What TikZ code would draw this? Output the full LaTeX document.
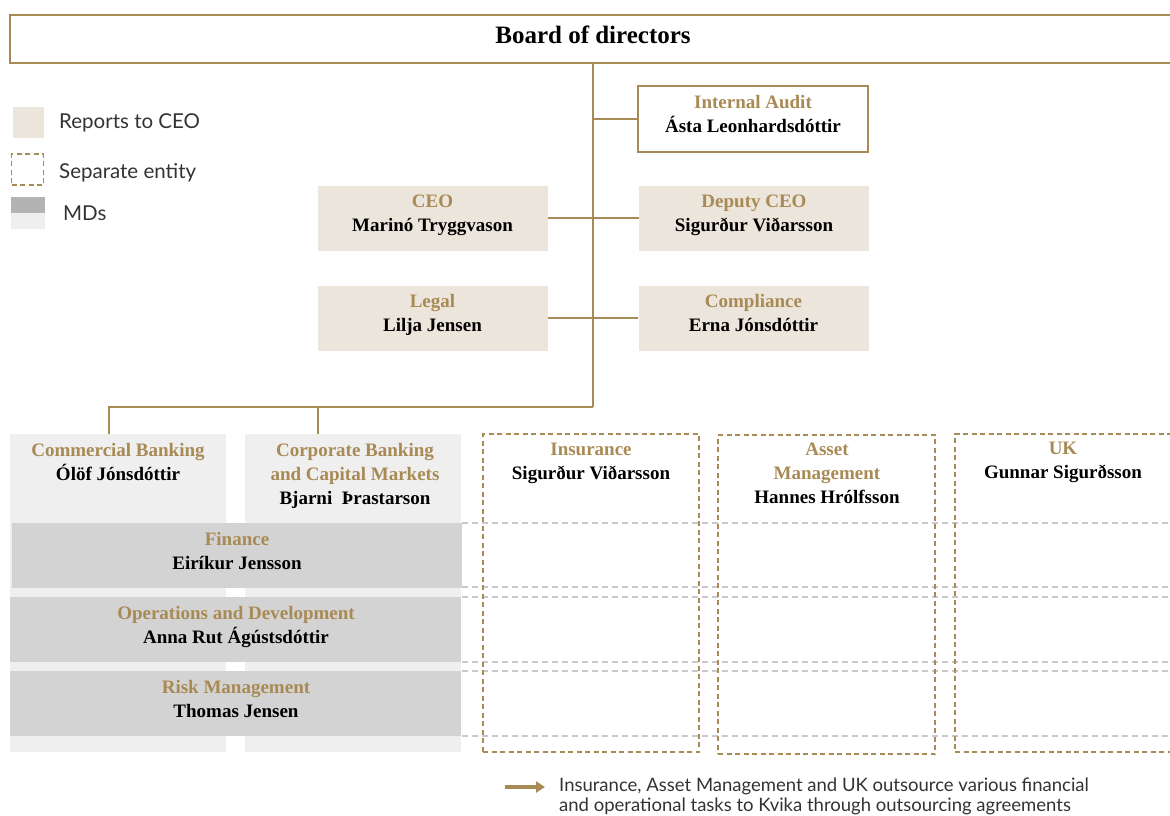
\documentclass[tikz,border=0pt]{standalone}
\usepackage{fontspec}
\setmainfont{Liberation Serif}
\newfontfamily\legendfont{Lato}
\usetikzlibrary{arrows.meta}
\definecolor{gold}{HTML}{A88A55}
\definecolor{beige}{HTML}{ECE5DB}
\definecolor{lgray}{HTML}{EFEFEF}
\definecolor{mgray}{HTML}{D3D3D3}
\definecolor{dgray}{HTML}{B3B3B3}
\definecolor{dashgray}{HTML}{C9C9C9}
\definecolor{txt}{HTML}{333333}
\tikzset{
  conn/.style={draw=gold, line width=2pt},
  execbox/.style={fill=beige, minimum width=230pt, minimum height=65pt, align=center, inner sep=0pt,
    font=\fontsize{19}{24}\selectfont\bfseries, text depth=10pt},
  auditbox/.style={draw=gold, line width=2pt, fill=white, minimum width=230pt, minimum height=66pt, align=center, inner sep=0pt,
    font=\fontsize{19}{24}\selectfont\bfseries, text depth=10pt},
  colbox/.style={fill=lgray, inner sep=0pt},
  mdband/.style={fill=mgray, inner sep=0pt},
  entity/.style={draw=gold, line width=1.4pt, dash pattern=on 5pt off 3.5pt, inner sep=0pt},
  gline/.style={draw=dashgray, line width=1.3pt, dash pattern=on 6pt off 4pt},
  lbl/.style={align=center, inner sep=0pt, anchor=north, font=\fontsize{19}{24}\selectfont\bfseries},
  legtxt/.style={anchor=west, inner sep=0pt, font=\legendfont\fontsize{20.5}{22}\selectfont, text=txt},
}
\newcommand{\gt}[1]{\textcolor{gold}{#1}}
\begin{document}
\begin{tikzpicture}[x=1pt,y=-1pt]
\useasboundingbox (0,0) rectangle (1170,815);
% board
\node[draw=gold, line width=2pt, minimum width=1166pt, minimum height=48pt, inner sep=0pt, text depth=8pt,
  font=\fontsize{25}{28}\selectfont\bfseries] (board) at (593,39) {Board of directors};
% legend
\node[fill=beige, minimum width=31pt, minimum height=31pt, inner sep=0pt] (lg1) at (28.5,122.5) {};
\node[legtxt] (lt1) at (59,123) {Reports to CEO};
\node[entity, minimum width=32pt, minimum height=31pt] (lg2) at (27.5,169.5) {};
\node[legtxt] (lt2) at (59,173) {Separate entity};
\node[fill=dgray, minimum width=34pt, minimum height=16pt, inner sep=0pt] (lg3) at (28,205) {};
\node[fill=lgray, minimum width=34pt, minimum height=16pt, inner sep=0pt] (lg4) at (28,221) {};
\node[legtxt] (lt3) at (63,213) {MDs};
% executive boxes
\node[auditbox] (ia) at (753,119) {\gt{Internal Audit}\\Ásta Leonhardsdóttir};
\node[execbox] (ceo) at (432.5,218) {\gt{CEO}\\Marinó Tryggvason};
\node[execbox] (dep) at (754,218) {\gt{Deputy CEO}\\Sigurður Viðarsson};
\node[execbox] (legal) at (432.5,318) {\gt{Legal}\\Lilja Jensen};
\node[execbox] (comp) at (753.5,318) {\gt{Compliance}\\Erna Jónsdóttir};
% business columns
\node[colbox, minimum width=216pt, minimum height=318pt] (cb) at (118,593) {};
\node[colbox, minimum width=216pt, minimum height=318pt] (corp) at (353,593) {};
\node[mdband, minimum width=450pt, minimum height=65pt] (fin) at (237,555.5) {};
\node[mdband, minimum width=451pt, minimum height=65pt] (ops) at (235.5,629.5) {};
\node[mdband, minimum width=451pt, minimum height=65pt] (risk) at (235.5,703.5) {};
% gray dashed rows
\foreach \yy in {523,587,597,662,671,736}{
  \draw[gline] (462,\yy) -- (1172,\yy);
}
% separate entities
\node[entity, minimum width=216pt, minimum height=318pt] (ins) at (591,593) {};
\node[entity, minimum width=217pt, minimum height=319pt] (am) at (826.5,594.5) {};
\node[entity, minimum width=230pt, minimum height=318pt] (uk) at (1070,593) {};
% labels
\node[lbl] (cbl) at (118,443) {\gt{Commercial Banking}\\Ólöf Jónsdóttir};
\node[lbl] (corpl) at (355,443) {\gt{Corporate Banking}\\\gt{and Capital Markets}\\Bjarni\ \ Þrastarson};
\node[lbl] (finl) at (237,532) {\gt{Finance}\\Eiríkur Jensson};
\node[lbl] (opsl) at (236,606) {\gt{Operations and Development}\\Anna Rut Ágústsdóttir};
\node[lbl] (riskl) at (236,680) {\gt{Risk Management}\\Thomas Jensen};
\node[lbl] (insl) at (591,443) {\gt{Insurance}\\Sigurður Viðarsson};
\node[lbl] (aml) at (827,443) {\gt{Asset}\\\gt{Management}\\Hannes Hrólfsson};
\node[lbl] (ukl) at (1063,442) {\gt{UK}\\Gunnar Sigurðsson};
% connectors
\coordinate (j) at (593,407);
\coordinate (cbtop) at (109,434);
\coordinate (corptop) at (318,434);
\draw[conn] (board.south) -- (j);
\draw[conn] (ia.west -| j) -- (ia.west);
\draw[conn] (ceo.east) -- (dep.west);
\draw[conn] (legal.east) -- (comp.west);
\draw[conn] (j) -| (cbtop);
\draw[conn] (j -| corptop) -- (corptop);
% arrow legend
\coordinate (a1) at (505,787);
\coordinate (a2) at (545,787);
\draw[gold, line width=4pt, -{Triangle[length=9pt,width=11pt]}] (a1) -- (a2);
\node[anchor=north west, inner sep=0pt, align=left, font=\legendfont\fontsize{18.5}{20}\selectfont, text=txt] (note) at (559,778)
  {Insurance, Asset Management and UK outsource various financial\\and operational tasks to Kvika through outsourcing agreements};
\end{tikzpicture}
\end{document}
